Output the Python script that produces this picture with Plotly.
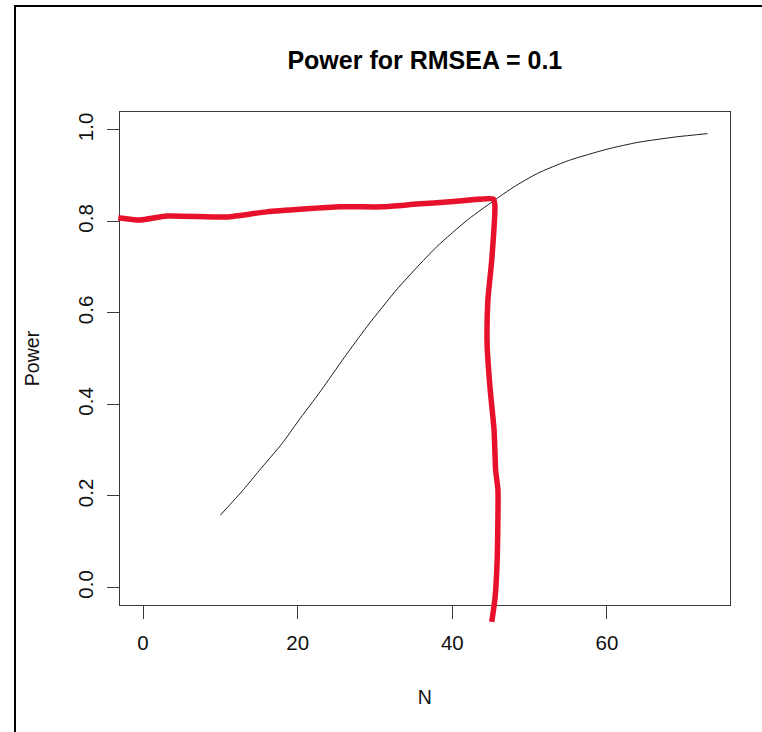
import plotly.graph_objects as go

# Power curve for RMSEA = 0.1
sample_n = [10, 13, 15, 18, 20, 23, 26, 29, 33, 38, 42, 46, 48, 51, 55, 60, 64, 69, 73]
power = [0.158, 0.214, 0.255, 0.315, 0.362, 0.430, 0.502, 0.571, 0.655, 0.745,
         0.804, 0.853, 0.876, 0.905, 0.933, 0.958, 0.973, 0.985, 0.992]

# Hand-drawn marker reading off N at power ~0.8
marker_n = [-3.2, -0.4, 3.1, 10.9, 16.0, 25.5, 31.0, 35.4, 39.7, 45.3, 45.5,
            45.1, 44.6, 44.5, 44.9, 45.4, 45.6, 45.9, 45.8, 45.5, 45.1]
marker_p = [0.808, 0.803, 0.812, 0.810, 0.821, 0.832, 0.832, 0.838, 0.843, 0.849, 0.836,
            0.716, 0.628, 0.530, 0.432, 0.344, 0.257, 0.213, 0.060, -0.027, -0.075]

x_ticks = [0, 20, 40, 60]
y_ticks = [0.0, 0.2, 0.4, 0.6, 0.8, 1.0]

W, H = 762, 732
# plot box in pixels and the data range it spans
box_l, box_r, box_t, box_b = 120, 729.7, 112, 605
x_rng = [-2.974, 75.87]
y_rng = [-0.0383, 1.0393]

# full-canvas overlay axes sharing the same data scale
def extend(rng, lo_px, hi_px, total):
    per = (rng[1] - rng[0]) / (hi_px - lo_px)
    return [rng[0] - lo_px * per, rng[1] + (total - hi_px) * per]

x2_rng = extend(x_rng, box_l, box_r, W)
y2_rng = extend(y_rng, H - box_b, H - box_t, H)

FONT = "Liberation Sans, Arial, sans-serif"
axis_col = "#3a3a3a"

fig = go.Figure()
fig.add_trace(go.Scatter(x=sample_n, y=power, mode="lines",
                         line=dict(color="#1e1e1e", width=1, shape="spline", smoothing=0.6),
                         xaxis="x", yaxis="y", showlegend=False))
fig.add_trace(go.Scatter(x=marker_n, y=marker_p, mode="lines",
                         line=dict(color="#e8112b", width=5.5, shape="spline", smoothing=0.5),
                         xaxis="x2", yaxis="y2", showlegend=False))

fig.update_layout(
    width=W, height=H,
    margin=dict(l=0, r=0, t=0, b=0),
    paper_bgcolor="white", plot_bgcolor="rgba(0,0,0,0)",
    font=dict(family=FONT, size=20.5, color="#111"),
    title=dict(text="<b>Power for RMSEA = 0.1</b>", x=(box_l + box_r) / 2 / W, xanchor="center",
               y=1 - 60 / H, yanchor="middle", font=dict(size=25, color="black")),
    xaxis=dict(domain=[box_l / W, box_r / W], range=x_rng, tickvals=x_ticks,
               showline=True, mirror=True, linecolor=axis_col, linewidth=1,
               ticks="outside", ticklen=13, tickcolor=axis_col, tickwidth=1,
               showgrid=False, zeroline=False, ticklabelstandoff=6,
               title=dict(text="N", standoff=37, font=dict(size=19.5))),
    yaxis=dict(domain=[1 - box_b / H, 1 - box_t / H], range=y_rng, tickvals=y_ticks,
               tickformat=".1f", tickangle=-90,
               showline=True, mirror=True, linecolor=axis_col, linewidth=1,
               ticks="outside", ticklen=12, tickcolor=axis_col, tickwidth=1,
               showgrid=False, zeroline=False, ticklabelstandoff=6,
               title=dict(text="Power", standoff=28, font=dict(size=19.5))),
    xaxis2=dict(domain=[0, 1], range=x2_rng, visible=False, anchor="y2"),
    yaxis2=dict(domain=[0, 1], range=y2_rng, visible=False, anchor="x2"),
    shapes=[dict(type="rect", xref="paper", yref="paper",
                 x0=15 / W, x1=1.3, y0=-0.3, y1=1 - 6 / H,
                 line=dict(color="black", width=2), layer="above")],
)

fig.write_html("out.html")
